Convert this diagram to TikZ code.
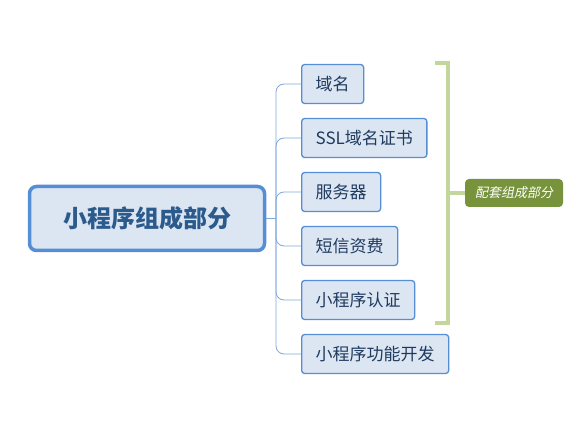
\documentclass[tikz,border=0pt]{standalone}
\usepackage{fontspec}
\setmainfont{Noto Sans CJK SC}
\newfontfamily\slantcjk[FakeSlant=0.2]{Noto Sans CJK SC}
\usetikzlibrary{positioning}
\definecolor{mainborder}{HTML}{558ED5}
\definecolor{boxfill}{HTML}{DCE6F2}
\definecolor{linecol}{HTML}{7EA6DA}
\definecolor{textcol}{HTML}{1F3A5F}
\definecolor{maintext}{HTML}{2B5A8C}
\definecolor{brackcol}{HTML}{C3D69B}
\definecolor{labfill}{HTML}{77933C}
\tikzset{
  x=1pt,y=-1pt,
  mainbox/.style={draw=mainborder,line width=3.5pt,fill=boxfill,rounded corners=7pt,
    minimum width=235pt,minimum height=64pt,inner sep=0pt,text=maintext,
    font=\fontsize{24}{28}\selectfont\bfseries},
  childbox/.style={draw=mainborder,line width=1.3pt,fill=boxfill,rounded corners=3pt,
    minimum height=39pt,inner xsep=14pt,inner ysep=0pt,anchor=west,text=textcol,
    font=\fontsize{17}{20}\selectfont},
  conn/.style={draw=linecol,line width=0.8pt,rounded corners=8pt},
  brack/.style={draw=brackcol,line width=4pt},
  labbox/.style={fill=labfill,rounded corners=4pt,text=white,minimum width=98pt,
    minimum height=28pt,inner sep=0pt,font=\fontsize{13}{15}\selectfont\slantcjk}
}
\begin{document}
\begin{tikzpicture}
\useasboundingbox (0,0) rectangle (583,435);
\node[mainbox] (m) at (147,218.5) {小程序组成部分};
\node[childbox] (c1) at (301,84) {域名};
\node[childbox] (c2) at (301,138) {SSL域名证书};
\node[childbox] (c3) at (301,192) {服务器};
\node[childbox] (c4) at (301,246) {短信资费};
\node[childbox] (c5) at (301,300) {小程序认证};
\node[childbox] (c6) at (301,354) {小程序功能开发};
\coordinate (j) at (276,218.5);
\draw[conn] (m.east) -- (j);
\foreach \c in {c1,c2,c3,c4,c5,c6}{
  \draw[conn] (j) |- (\c.west);
}
\coordinate (bt) at (435,63);
\coordinate (bb) at (435,323);
\node[labbox] (lab) at (514,193) {配套组成部分};
\draw[brack] (bt) -- (448,63) -- (448,323) -- (bb);
\draw[brack] (448,193) -- (lab.west);
\end{tikzpicture}
\end{document}
